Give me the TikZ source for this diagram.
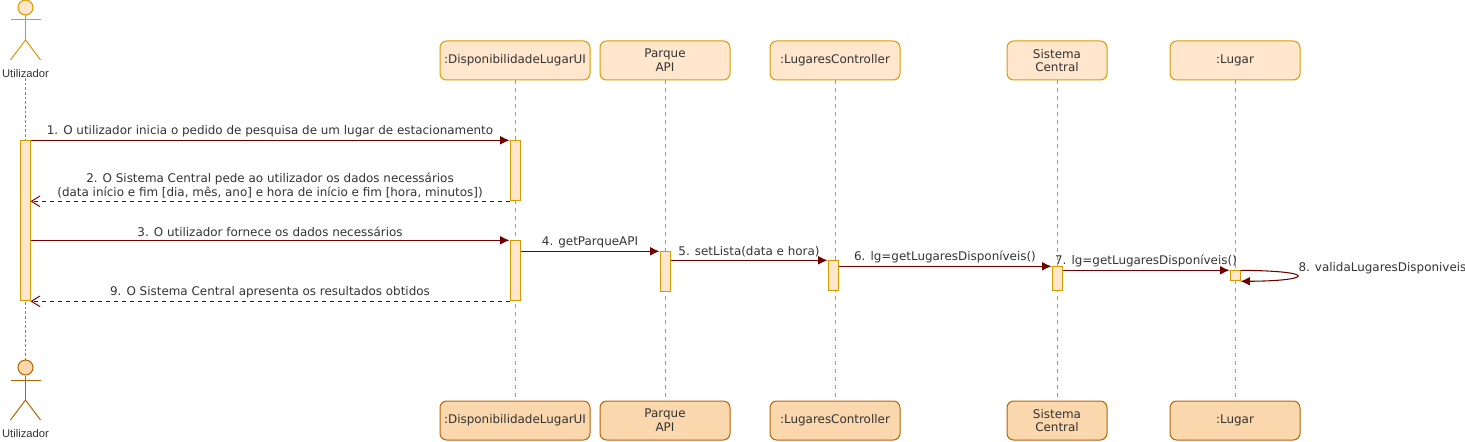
\documentclass[tikz,border=0pt]{standalone}
\usepackage{fontspec}
\setmainfont{DejaVu Sans}
\newfontfamily\actorfont{Liberation Sans}
\usetikzlibrary{arrows.meta}
\definecolor{topfill}{HTML}{FFE6CC}
\definecolor{topline}{HTML}{D79B00}
\definecolor{botfill}{HTML}{FAD7AC}
\definecolor{botline}{HTML}{B46504}
\definecolor{msgline}{HTML}{6F0000}
\definecolor{msgtext}{HTML}{333333}
\begin{document}
\begin{tikzpicture}[x=0.75pt,y=-0.75pt,line width=0.75pt,
    msgtxt/.style={text=msgtext,font=\fontsize{8.95}{10.4}\selectfont,inner sep=2pt,align=center},
    obj/.style={draw=topline,fill=topfill,rounded corners=5pt,minimum height=29.25pt,inner sep=0pt,align=center,text=msgtext,font=\fontsize{8.95}{10.4}\selectfont},
    objb/.style={obj,draw=botline,fill=botfill},
    act/.style={draw=topline,fill=topfill,minimum width=7.5pt,inner sep=0pt},
    head/.style={circle,draw=topline,fill=topfill,minimum size=11.25pt,inner sep=0pt},
    actname/.style={text=msgtext,font=\actorfont\fontsize{8.4}{10}\selectfont,inner sep=0pt},
    life/.style={draw=topline,dashed,line width=0.5pt},
    call/.style={draw=msgline,-{Latex[length=7pt,width=6.5pt]},line width=0.8pt},
    back/.style={draw=msgline,dashed,-{Straight Barb[length=6.5pt,width=8pt]},line width=0.7pt}]
    \useasboundingbox (0,0) rectangle (1465,442);
    % objects
    \node[obj,minimum width=112.5pt](ui)at(515,60.5){:DisponibilidadeLugarUI};
    \node[obj,minimum width=97.5pt](parque)at(665,60.5){Parque\\API};
    \node[obj,minimum width=97.5pt](ctrl)at(835,60.5){:LugaresController};
    \node[obj,minimum width=75pt](central)at(1057,60.5){Sistema\\Central};
    \node[obj,minimum width=97.5pt](lugar)at(1235,60.5){:Lugar};
    \node[objb,minimum width=112.5pt](uib)at(515,420.5){:DisponibilidadeLugarUI};
    \node[objb,minimum width=97.5pt](parqueb)at(665,420.5){Parque\\API};
    \node[objb,minimum width=97.5pt](ctrlb)at(835,420.5){:LugaresController};
    \node[objb,minimum width=75pt](centralb)at(1057,420.5){Sistema\\Central};
    \node[objb,minimum width=97.5pt](lugarb)at(1235,420.5){:Lugar};
    % actors
    \node[head](cab)at(25.5,7.5){};
    \coordinate(pe)at(25.5,40);
    \path[draw=topline](cab.south)to(pe);
    \path[draw=topline](10.5,20)to(40.5,20);
    \path[draw=topline](10.5,60)to(pe)to(40.5,60);
    \node[actname](actor)at(25.5,73.5){Utilizador};
    \node[head,draw=botline,fill=botfill](cabb)at(25.5,367.5){};
    \coordinate(peb)at(25.5,400);
    \path[draw=botline](cabb.south)to(peb);
    \path[draw=botline](10.5,380)to(40.5,380);
    \path[draw=botline](10.5,420)to(peb)to(40.5,420);
    \node[actname](actorb)at(25.5,433.5){Utilizador};
    % lifelines
    \path[draw=gray,dash pattern=on 2pt off 1.5pt,line width=1.2pt](actor.south)to(cabb.north);
    \path[life](ui)to(uib);
    \path[life](parque)to(parqueb);
    \path[life](ctrl)to(ctrlb);
    \path[life](central)to(centralb);
    \path[life](lugar)to(lugarb);
    % activations
    \node[act,minimum height=120pt](a0)at(25,220.8){};
    \node[act,minimum height=45pt](a1)at(515,170.8){};
    \node[act,minimum height=45pt](a2)at(515,270.8){};
    \node[act,minimum height=30pt](a3)at(665,271.8){};
    \node[act,minimum height=22.5pt](a4)at(833,275.8){};
    \node[act,minimum height=18pt](a5)at(1057,278.8){};
    \node[act,minimum height=7.5pt](a6)at(1235,275.8){};
    % messages
    \path[call](a0.north east)to node[msgtxt,above]{1. O utilizador inicia o pedido de pesquisa de um lugar de estacionamento}(a1.north west);
    \path[back](a1.south west)to node[msgtxt,above]{2. O Sistema Central pede ao utilizador os dados necessários\\(data início e fim [dia, mês, ano] e hora de início e fim [hora, minutos])}(a1.south west-|a0.east);
    \path[call](a2.north west-|a0.east)to node[msgtxt,above]{3. O utilizador fornece os dados necessários}(a2.north west);
    \path[call](a3.north west-|a2.east)to node[msgtxt,above]{4. getParqueAPI}(a3.north west);
    \path[call](a4.north west-|a3.east)to node[msgtxt,above]{5. setLista(data e hora)}(a4.north west);
    \path[call](a5.north west-|a4.east)to node[msgtxt,above]{6. lg=getLugaresDisponíveis()}(a5.north west);
    \path[call](a6.north west-|a5.east)to node[msgtxt,above]{7. lg=getLugaresDisponíveis()}(a6.north west);
    \path[call](a6.north east)..controls(1320,271)and(1312,281)..(a6.south east);
    \node[msgtxt,right,inner sep=0pt](m8)at(1298,268){8. validaLugaresDisponiveis};
    \path[back](a2.south west)to node[msgtxt,above]{9. O Sistema Central apresenta os resultados obtidos}(a2.south west-|a0.east);
\end{tikzpicture}
\end{document}
